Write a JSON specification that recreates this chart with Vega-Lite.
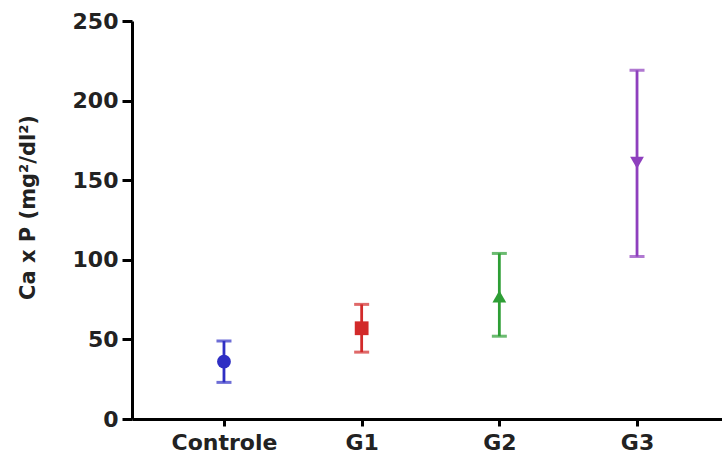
{
  "$schema": "https://vega.github.io/schema/vega-lite/v6.json",
  "width": 597,
  "height": 398,
  "autosize": {"type": "none"},
  "padding": {"left": 132, "top": 21, "right": 0, "bottom": 46},
  "background": "white",
  "config": {
    "view": {"stroke": null},
    "font": "DejaVu Sans"
  },
  "data": {
    "values": [
      {"group": "Controle", "mean": 36, "lo": 23, "hi": 49},
      {"group": "G1", "mean": 57, "lo": 42, "hi": 72},
      {"group": "G2", "mean": 77, "lo": 52, "hi": 104},
      {"group": "G3", "mean": 161, "lo": 102, "hi": 219}
    ]
  },
  "encoding": {
    "x": {
      "field": "group",
      "type": "nominal",
      "sort": null,
      "scale": {"type": "point", "padding": 0.668},
      "axis": {
        "title": null,
        "labelAngle": 0,
        "labelFont": "DejaVu Sans",
        "labelFontWeight": "bold",
        "labelFontSize": 22,
        "labelColor": "#222222",
        "labelPadding": 6,
        "tickSize": 7,
        "tickWidth": 3,
        "tickColor": "#000000",
        "domainColor": "#000000",
        "domainWidth": 3,
        "grid": false
      }
    },
    "color": {
      "field": "group",
      "type": "nominal",
      "scale": {
        "domain": ["Controle", "G1", "G2", "G3"],
        "range": ["#2f2fc4", "#d22a2a", "#2e9e35", "#8e3fbe"]
      },
      "legend": null
    }
  },
  "layer": [
    {
      "mark": {"type": "rule", "strokeWidth": 2.8},
      "encoding": {
        "y": {
          "field": "lo",
          "type": "quantitative",
          "scale": {"domain": [0, 250], "nice": false},
          "axis": {
            "title": "Ca x P (mg²/dl²)",
            "titleFont": "DejaVu Sans",
            "titleFontWeight": "bold",
            "titleFontSize": 21,
            "titleColor": "#222222",
            "titleAngle": 270,
            "titleAlign": "center",
            "titleBaseline": "middle",
            "titleX": -104,
            "titleY": 186,
            "values": [0, 50, 100, 150, 200, 250],
            "labelFont": "DejaVu Sans",
            "labelFontWeight": "bold",
            "labelFontSize": 22,
            "labelColor": "#222222",
            "labelPadding": 4,
            "tickSize": 10,
            "tickWidth": 3,
            "tickColor": "#000000",
            "domainColor": "#000000",
            "domainWidth": 3,
            "grid": false
          }
        },
        "y2": {"field": "hi"}
      }
    },
    {
      "mark": {"type": "tick", "size": 15, "thickness": 3},
      "encoding": {"y": {"field": "lo", "type": "quantitative"}}
    },
    {
      "mark": {"type": "tick", "size": 15, "thickness": 3},
      "encoding": {"y": {"field": "hi", "type": "quantitative"}}
    },
    {
      "mark": {"type": "point", "filled": true, "opacity": 1, "size": 190},
      "encoding": {
        "y": {"field": "mean", "type": "quantitative"},
        "shape": {
          "field": "group",
          "type": "nominal",
          "scale": {
            "domain": ["Controle", "G1", "G2", "G3"],
            "range": ["circle", "square", "triangle-up", "triangle-down"]
          },
          "legend": null
        }
      }
    }
  ]
}
